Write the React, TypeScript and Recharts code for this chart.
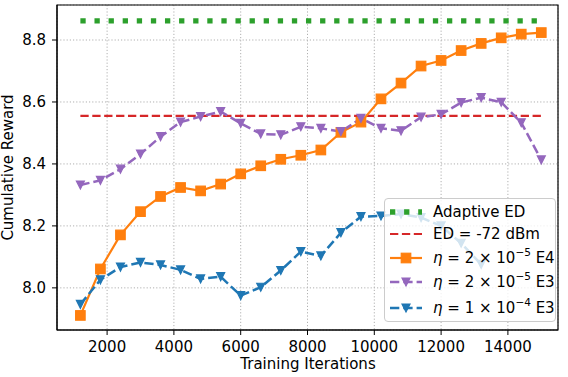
import React from 'react';
import { LineChart, Line, XAxis, YAxis, CartesianGrid, ReferenceArea, Legend } from 'recharts';

const iterations = [1200, 1800, 2400, 3000, 3600, 4200, 4800, 5400, 6000, 6600, 7200, 7800,
  8400, 9000, 9600, 10200, 10800, 11400, 12000, 12600, 13200, 13800, 14400, 15000];

const adaptiveED = 8.862;
const fixedED = 8.555;

const e4Lr2e5 = [7.911, 8.061, 8.171, 8.246, 8.295, 8.324, 8.313, 8.335, 8.368, 8.394, 8.415, 8.428,
  8.445, 8.502, 8.535, 8.61, 8.661, 8.716, 8.734, 8.766, 8.789, 8.807, 8.819, 8.824];

const e3Lr2e5 = [8.332, 8.347, 8.383, 8.432, 8.488, 8.535, 8.553, 8.569, 8.531, 8.497, 8.494, 8.52,
  8.515, 8.504, 8.547, 8.515, 8.507, 8.551, 8.56, 8.598, 8.614, 8.599, 8.533, 8.413];

// this run stops at 13200
const e3Lr1e4 = [7.947, 8.026, 8.067, 8.082, 8.074, 8.058, 8.029, 8.036, 7.975, 8.002, 8.056, 8.117,
  8.103, 8.178, 8.23, 8.232, 8.238, 8.227, 8.2, 8.144, 8.076];

const xTicks = [2000, 4000, 6000, 8000, 10000, 12000, 14000];
const yTicks = [8.0, 8.2, 8.4, 8.6, 8.8];

const data = iterations.map((it, i) => ({
  it,
  adaptive: adaptiveED,
  fixed: fixedED,
  e4: e4Lr2e5[i],
  e3a: e3Lr2e5[i],
  e3b: i < e3Lr1e4.length ? e3Lr1e4[i] : null,
}));

const FONT = '"DejaVu Sans", sans-serif';
const GREEN = '#2ca02c';
const RED = '#d62728';
const ORANGE = '#ff7f0e';
const PURPLE = '#9467bd';
const BLUE = '#1f77b4';

const squareDot = (color: string) => (props: any) => {
  const { cx, cy, index } = props;
  if (cx == null || cy == null) return <g key={index} />;
  const s = 9.5;
  return <rect key={index} x={cx - s / 2} y={cy - s / 2} width={s} height={s}
    fill={color} stroke={color} strokeWidth={1.2} />;
};

const triDot = (color: string, s: number) => (props: any) => {
  const { cx, cy, index } = props;
  if (cx == null || cy == null) return <g key={index} />;
  return <path key={index} d={`M${cx - s / 2},${cy - s / 2}L${cx + s / 2},${cy - s / 2}L${cx},${cy + s / 2}Z`}
    fill={color} stroke={color} strokeWidth={1.2} strokeLinejoin="miter" />;
};

const Eta = ({ base, exp, tag }: { base: string; exp: string; tag: string }) => (
  <span>
    <i>η</i> = {base} × 10<sup style={{ fontSize: 10.5, verticalAlign: 'baseline', position: 'relative', top: -7 }}>{exp}</sup> {tag}
  </span>
);

const legendRows = [
  { y: 12.7, label: <span>Adaptive ED</span>, color: GREEN, width: 5.3, dash: '5.3 8.8', marker: null },
  { y: 34.7, label: <span>ED = -72 dBm</span>, color: RED, width: 2.2, dash: '8.3 3.6', marker: null },
  { y: 58.7, label: <Eta base="2" exp="−5" tag="E4" />, color: ORANGE, width: 2.2, dash: undefined, marker: 'square' },
  { y: 82.7, label: <Eta base="2" exp="−5" tag="E3" />, color: PURPLE, width: 2.5, dash: '9.3 4', marker: 'tri' },
  { y: 108.7, label: <Eta base="1" exp="−4" tag="E3" />, color: BLUE, width: 2.5, dash: '9.3 4', marker: 'tri' },
];

const renderLegend = () => (
  <div style={{
    position: 'relative', width: 172, height: 124, boxSizing: 'border-box',
    background: 'rgba(255,255,255,0.8)', border: '1px solid #cccccc', borderRadius: 4,
    fontFamily: FONT, fontSize: 15, color: '#000',
  }}>
    {legendRows.map((r, i) => (
      <div key={i} style={{ position: 'absolute', left: 0, top: r.y - 10, height: 20, width: 172 }}>
        <svg width={32} height={20} style={{ position: 'absolute', left: 5, top: 0 }}>
          <line x1={0} y1={10} x2={32} y2={10} stroke={r.color} strokeWidth={r.width} strokeDasharray={r.dash} />
          {r.marker === 'square' && <rect x={11.25} y={5.25} width={9.5} height={9.5} fill={r.color} stroke={r.color} strokeWidth={1.2} />}
          {r.marker === 'tri' && <path d="M12,6L20,6L16,14Z" fill={r.color} stroke={r.color} strokeWidth={1.2} />}
        </svg>
        <div style={{ position: 'absolute', left: 48, top: 0, lineHeight: '20px', whiteSpace: 'nowrap' }}>{r.label}</div>
      </div>
    ))}
  </div>
);

export default function App() {
  return (
    <div style={{ position: 'absolute', left: 0, top: 0, width: 568, height: 377, background: '#fff', fontFamily: FONT }}>
      <LineChart width={568} height={377} data={data} margin={{ top: 5, right: 10, bottom: 17, left: 0 }}>
        <CartesianGrid stroke="#b0b0b0" strokeDasharray="1.2 2" strokeWidth={1} />
        <XAxis type="number" dataKey="it" domain={[500, 15500]} ticks={xTicks} allowDataOverflow
          height={30} tickSize={5} tickMargin={6} stroke="#000"
          tick={{ fontSize: 15, fill: '#000', fontFamily: FONT }}
          label={{
            content: () => (
              <text x={308} y={369} textAnchor="middle" fontSize={15} fontFamily={FONT} fill="#000">Training Iterations</text>
            ),
          }} />
        <YAxis type="number" domain={[7.864, 8.913]} ticks={yTicks} allowDataOverflow
          width={57} tickSize={5} tickMargin={6} stroke="#000"
          tickFormatter={(v: number) => v.toFixed(1)}
          tick={{ fontSize: 15, fill: '#000', fontFamily: FONT }}
          label={{
            content: () => (
              <text x={13.3} y={167.5} transform="rotate(-90 13.3 167.5)" textAnchor="middle"
                fontSize={15} fontFamily={FONT} fill="#000">Cumulative Reward</text>
            ),
          }} />
        <Line dataKey="adaptive" stroke={GREEN} strokeWidth={5.3} strokeDasharray="5.3 8.8"
          dot={false} activeDot={false} isAnimationActive={false} />
        <Line dataKey="fixed" stroke={RED} strokeWidth={2.2} strokeDasharray="8.3 3.6"
          dot={false} activeDot={false} isAnimationActive={false} />
        <Line dataKey="e4" stroke={ORANGE} strokeWidth={2.2}
          dot={squareDot(ORANGE)} activeDot={false} isAnimationActive={false} />
        <Line dataKey="e3a" stroke={PURPLE} strokeWidth={2.5} strokeDasharray="9.3 4"
          dot={triDot(PURPLE, 8)} activeDot={false} isAnimationActive={false} />
        <Line dataKey="e3b" stroke={BLUE} strokeWidth={2.5} strokeDasharray="9.3 4"
          dot={triDot(BLUE, 8)} activeDot={false} isAnimationActive={false} />
        <ReferenceArea x1={500} x2={15500} y1={7.864} y2={8.913} fill="none" stroke="#000" strokeWidth={1.2} />
        <Legend layout="vertical" align="center" verticalAlign="middle" content={renderLegend}
          wrapperStyle={{ position: 'absolute', left: 384, top: 198, width: 172, height: 124 }} />
      </LineChart>
    </div>
  );
}
